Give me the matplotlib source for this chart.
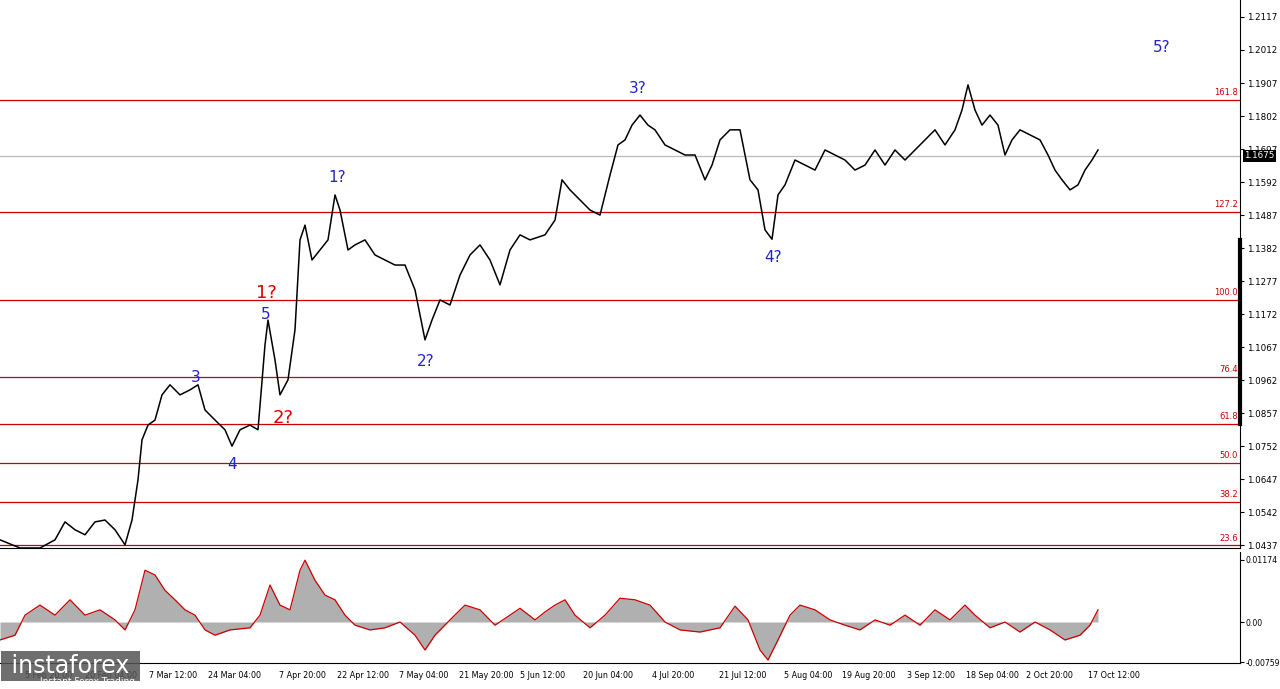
import matplotlib
matplotlib.use("Agg")
import matplotlib.pyplot as plt
import numpy as np

# price path (bar position, close)
px = [0,20,40,55,65,75,85,95,105,115,125,132,138,142,148,155,162,170,180,190,198,205,215,225,232,240,250,258,265,268,275,280,288,295,300,305,312,320,328,335,340,348,355,365,375,385,395,405,415,425,432,440,450,460,470,480,490,500,510,520,530,545,555,562,570,580,590,600,605,610,618,625,632,640,648,655,665,675,685,695,705,712,720,730,740,745,750,758,765,772,778,785,795,805,815,825,835,845,855,865,875,885,895,905,915,925,935,945,955,962,968,975,982,990,998,1005,1012,1020,1030,1040,1048,1055,1062,1070,1078,1085,1092,1098]
price = [1.0454,1.0428,1.0428,1.0454,1.0511,1.0486,1.0470,1.0511,1.0517,1.0486,1.0438,1.0517,1.0645,1.0772,1.0819,1.0835,1.0915,1.0947,1.0915,1.0931,1.0947,1.0867,1.0835,1.0804,1.0752,1.0804,1.0819,1.0804,1.1074,1.1153,1.1026,1.0915,1.0963,1.1122,1.1408,1.1455,1.1344,1.1376,1.1408,1.1551,1.1503,1.1376,1.1392,1.1408,1.1360,1.1344,1.1328,1.1328,1.1249,1.1090,1.1153,1.1217,1.1201,1.1296,1.1360,1.1392,1.1344,1.1265,1.1376,1.1424,1.1408,1.1424,1.1471,1.1599,1.1567,1.1535,1.1503,1.1487,1.1551,1.1614,1.1710,1.1726,1.1773,1.1805,1.1773,1.1758,1.1710,1.1694,1.1678,1.1678,1.1599,1.1646,1.1726,1.1758,1.1758,1.1678,1.1599,1.1567,1.1440,1.1410,1.1551,1.1583,1.1662,1.1646,1.1630,1.1694,1.1678,1.1662,1.1630,1.1646,1.1694,1.1646,1.1694,1.1662,1.1694,1.1726,1.1758,1.1710,1.1758,1.1821,1.1901,1.1821,1.1773,1.1805,1.1773,1.1678,1.1726,1.1758,1.1742,1.1726,1.1678,1.1630,1.1599,1.1567,1.1583,1.1630,1.1662,1.1694]

ox = [0,15,25,40,55,70,85,100,115,125,135,145,155,165,175,185,195,205,215,230,250,260,270,280,290,300,305,315,325,335,345,355,370,385,400,415,425,435,450,465,480,495,510,520,535,545,555,565,575,590,605,620,635,650,665,680,700,720,735,748,760,768,778,790,800,815,830,845,860,875,890,905,920,935,950,965,975,990,1005,1020,1035,1050,1065,1080,1090,1098]
osc = [-0.0034,-0.0025,0.0013,0.0032,0.0013,0.0042,0.0013,0.0023,0.0004,-0.0015,0.0023,0.0098,0.0089,0.0060,0.0042,0.0023,0.0013,-0.0015,-0.0025,-0.0015,-0.0011,0.0013,0.0070,0.0032,0.0023,0.0098,0.0117,0.0079,0.0051,0.0042,0.0013,-0.0006,-0.0015,-0.0011,0.0,-0.0025,-0.0053,-0.0025,0.0004,0.0032,0.0023,-0.0006,0.0013,0.0026,0.0004,0.0019,0.0032,0.0042,0.0013,-0.0011,0.0013,0.0045,0.0042,0.0032,0.0,-0.0015,-0.0019,-0.0011,0.0030,0.0004,-0.0053,-0.0072,-0.0034,0.0013,0.0032,0.0023,0.0004,-0.0006,-0.0015,0.0004,-0.0006,0.0013,-0.0006,0.0023,0.0004,0.0032,0.0013,-0.0011,0.0,-0.0019,0.0,-0.0015,-0.0034,-0.0025,-0.0006,0.0023]

fib_levels = [1.1853,1.1497,1.1217,1.0972,1.0823,1.0699,1.0575,1.0437]
fib_labels = ["161.8","127.2","100.0","76.4","61.8","50.0","38.2","23.6"]
last_price = 1.1675
yticks = [1.2117,1.2012,1.1907,1.1802,1.1697,1.1592,1.1487,1.1382,1.1277,1.1172,1.1067,1.0962,1.0857,1.0752,1.0647,1.0542,1.0437]
date_pos = [49,111,173,235,302,363,424,486,543,608,673,743,808,869,931,992,1049,1114]
date_labels = ["5 Feb 20:00","20 Feb 04:00","7 Mar 12:00","24 Mar 04:00","7 Apr 20:00","22 Apr 12:00","7 May 04:00","21 May 20:00","5 Jun 12:00","20 Jun 04:00","4 Jul 20:00","21 Jul 12:00","5 Aug 04:00","19 Aug 20:00","3 Sep 12:00","18 Sep 04:00","2 Oct 20:00","17 Oct 12:00"]
waves = [("1?",337,1.1605,"#2222cc",11),("2?",426,1.1020,"#2222cc",11),("3?",638,1.1890,"#2222cc",11),
         ("4?",773,1.1351,"#2222cc",11),("5?",1162,1.2020,"#2222cc",11),("3",196,1.0970,"#2222cc",11),
         ("4",232,1.0692,"#2222cc",11),("5",266,1.1172,"#2222cc",11),("1?",266,1.1239,"#dd0000",13),("2?",283,1.0840,"#dd0000",13)]

W,H = 1280,689
fig = plt.figure(figsize=(12.8,6.89),dpi=100)
ax = fig.add_axes([0,1-548/H,1240/W,548/H])
ax2 = fig.add_axes([0,1-663/H,1240/W,111/H])
for a in (ax,ax2):
    a.set_xlim(0,1240)
    a.tick_params(axis='y',which='both',left=False,right=True,labelleft=False,labelright=True,labelsize=6.3,length=3,pad=2)
    a.tick_params(axis='x',bottom=False,labelbottom=False)
    for s in ('top','left'):
        a.spines[s].set_visible(False)
ax2.tick_params(axis='y',labelsize=5.6,pad=1)
ax.set_ylim(1.0428,1.2171)
ax.set_yticks(yticks)
ax.set_yticklabels([f"{v:.4f}" for v in yticks])
for lv,lb in zip(fib_levels,fib_labels):
    ax.axhline(lv,color="#cc0000",lw=0.9)
    ax.text(1238,lv+0.0008,lb,color="#cc0000",fontsize=6,ha='right',va='bottom')
ax.axhline(last_price,color="#bbbbbb",lw=0.9)
ax.text(1244,last_price,f"{last_price:.4f}",color='white',fontsize=6.3,va='center',ha='left',
        bbox=dict(facecolor='black',edgecolor='none',pad=1),clip_on=False)
ax.plot(px,price,color='black',lw=1.1)
for t,x,y,c,fs in waves:
    ax.text(x,y,t,color=c,fontsize=fs,ha='center',va='center')
ax.plot([1240,1240],[1.0823,1.1408],color='black',lw=3,clip_on=False)

ax2.set_ylim(-0.00776,0.01325)
ax2.set_yticks([0.01174,0.0,-0.00759])
ax2.set_yticklabels(["0.01174","0.00","-0.00759"])
ax2.fill_between(ox,osc,0,color='#b0b0b0',lw=0)
ax2.plot(ox,osc,color='#cc0000',lw=0.9)
for p,l in zip(date_pos,date_labels):
    fig.text(p/W,1-676/H,l,fontsize=5.8,ha='center',va='center')
fig.text(4/W,1-666/H," instaforex ",fontsize=17,color='white',va='center',ha='left',
         bbox=dict(facecolor='#555555',alpha=0.85,edgecolor='none',pad=2))
fig.text(40/W,1-681/H,"Instant Forex Trading",fontsize=6.5,color='white',va='center')
fig.savefig("out.png",dpi=100)
